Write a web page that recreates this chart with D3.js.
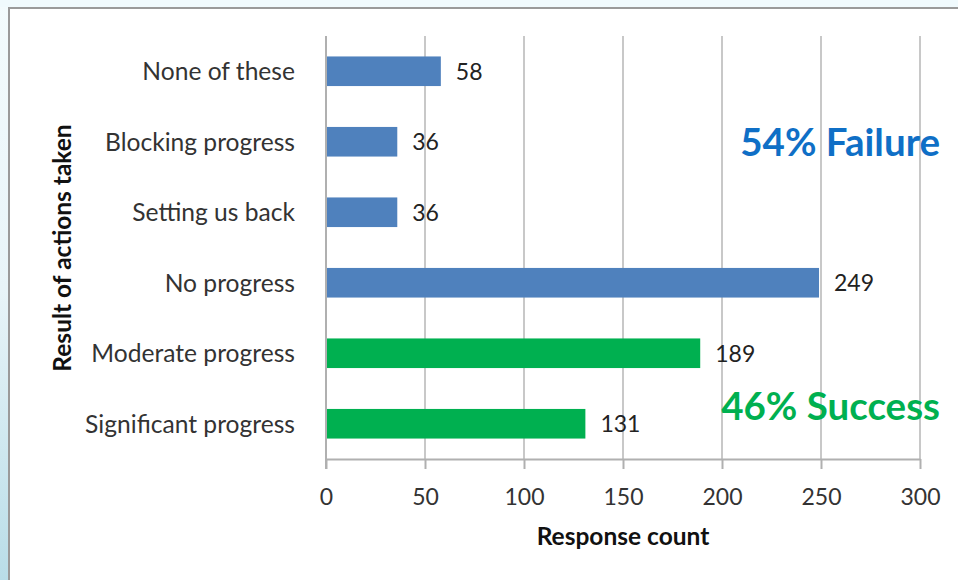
<!DOCTYPE html>
<html><head><meta charset="utf-8">
<script src="https://cdn.jsdelivr.net/npm/d3@7"></script>
<style>html,body{margin:0;padding:0;background:#fff;}svg{display:block;}</style>
</head><body>
<svg id="c" width="958" height="580"></svg>
<script>
const categories = ["None of these","Blocking progress","Setting us back","No progress","Moderate progress","Significant progress"];
const values = [58,36,36,249,189,131];
const groups = ["fail","fail","fail","fail","success","success"];
const xTicks = [0,50,100,150,200,250,300];
const annotations = [{text:"54% Failure", group:"fail", cat:"Blocking progress"},{text:"46% Success", group:"success", cat:"Significant progress"}];

const colors = {fail:"#4f81bd", success:"#00b050"};
const annColors = {fail:"#0f6fc6", success:"#00b050"};
const font = "Lato, 'Open Sans', sans-serif";

const svg = d3.select("#c");
const defs = svg.append("defs");
const g1 = defs.append("linearGradient").attr("id","bg").attr("x1",0).attr("y1",0).attr("x2",0).attr("y2",1);
g1.append("stop").attr("offset","0").attr("stop-color","#f3fbfd");
g1.append("stop").attr("offset","0.5").attr("stop-color","#e8f4f8");
g1.append("stop").attr("offset","1").attr("stop-color","#b9dde8");
svg.append("rect").attr("width",958).attr("height",580).attr("fill","url(#bg)");
svg.append("rect").attr("x",0).attr("y",0).attr("width",958).attr("height",7).attr("fill","#f0fafd");
svg.append("rect").attr("x",9).attr("y",8).attr("width",960).attr("height",580).attr("fill","#fff").attr("stroke","#9a9a9a").attr("stroke-width",2);

const x = d3.scaleLinear().domain([0,300]).range([326,920]);
const y = d3.scaleBand().domain(categories).range([36,459]).paddingInner(0.58).paddingOuter(0.29);

// gridlines
svg.append("g").selectAll("line").data(xTicks.slice(1)).join("line")
  .attr("x1",d=>x(d)).attr("x2",d=>x(d)).attr("y1",36).attr("y2",459)
  .attr("stroke","#c8c8c8").attr("stroke-width",2);

// x axis
const xAxis = svg.append("g").attr("transform","translate(0,459)")
  .call(d3.axisBottom(x).tickValues(xTicks).tickSize(10).tickPadding(20).tickSizeOuter(0));
xAxis.select(".domain").attr("stroke","#b0b0b0").attr("stroke-width",2);
xAxis.selectAll(".tick line").attr("stroke","#b0b0b0").attr("stroke-width",2);
xAxis.selectAll(".tick text").attr("font-family",font).attr("font-size",23).attr("fill","#333");

// y axis line
svg.append("line").attr("x1",326).attr("x2",326).attr("y1",36).attr("y2",469).attr("stroke","#b0b0b0").attr("stroke-width",2);

// bars
svg.append("g").selectAll("rect").data(categories).join("rect")
  .attr("x",x(0)+1).attr("y",d=>y(d)).attr("height",y.bandwidth())
  .attr("width",(d,i)=>x(values[i])-x(0)-1)
  .attr("fill",(d,i)=>colors[groups[i]]);

// value labels
svg.append("g").selectAll("text").data(categories).join("text")
  .attr("x",(d,i)=>x(values[i])+15).attr("y",d=>y(d)+y.bandwidth()/2)
  .attr("dy","0.38em").attr("font-family",font).attr("font-size",23).attr("fill","#222")
  .text((d,i)=>values[i]);

// category labels
svg.append("g").selectAll("text").data(categories).join("text")
  .attr("x",295).attr("y",d=>y(d)+y.bandwidth()/2).attr("dy","0.36em")
  .attr("text-anchor","end").attr("font-family",font).attr("font-size",24.6).attr("fill","#333")
  .text(d=>d);

// axis titles
svg.append("text").attr("x",x(150)).attr("y",545).attr("text-anchor","middle")
  .attr("font-family",font).attr("font-weight","bold").attr("font-size",24.5).attr("fill","#111").text("Response count");
svg.append("text").attr("transform","translate(71,248) rotate(-90)").attr("text-anchor","middle")
  .attr("font-family",font).attr("font-weight","bold").attr("font-size",24.5).attr("fill","#111").text("Result of actions taken");

// annotations
svg.append("g").selectAll("text").data(annotations).join("text")
  .attr("x",940).attr("y",d=>y(d.cat)+y.bandwidth()/2 - (d.group==="success"?18:0)).attr("dy","0.36em")
  .attr("text-anchor","end").attr("font-family",font).attr("font-weight","bold").attr("font-size",38.5)
  .attr("fill",d=>annColors[d.group]).text(d=>d.text);
</script>
</body></html>
